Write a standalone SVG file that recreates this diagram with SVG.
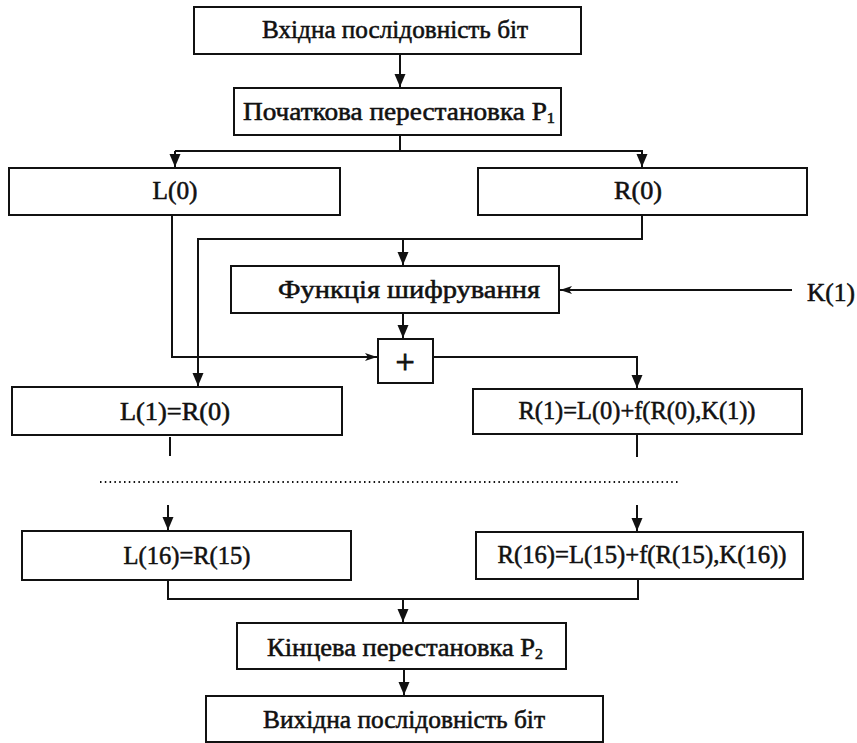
<svg xmlns="http://www.w3.org/2000/svg" width="857" height="743" viewBox="0 0 857 743">
<style>
.box{fill:#fff;stroke:#111;stroke-width:2}
.ln{fill:none;stroke:#111;stroke-width:2}
.t{font-family:"Liberation Serif","Times New Roman",serif;font-size:25px;fill:#111;stroke:#111;stroke-width:0.55;text-anchor:middle}
.sub{font-size:15px}
</style>
<defs>
<marker id="ah" markerUnits="userSpaceOnUse" markerWidth="12" markerHeight="14" refX="13" refY="5.5" orient="auto">
<path d="M0,0 L13,5.5 L0,11 Z" fill="#111"/>
</marker>
<marker id="ahs" markerUnits="userSpaceOnUse" markerWidth="13" markerHeight="10" refX="12" refY="4" orient="auto">
<path d="M0,0 L12,4 L0,8 L3,4 Z" fill="#111"/>
</marker>
</defs>
<rect width="857" height="743" fill="#fff"/>
<g id="connectors">
<line class="ln" x1="400" y1="54" x2="400" y2="87" marker-end="url(#ah)"/>
<line class="ln" x1="400" y1="135" x2="400" y2="151"/>
<polyline class="ln" points="175,151 642,151 642,167" marker-end="url(#ah)"/>
<line class="ln" x1="175" y1="151" x2="175" y2="167" marker-end="url(#ah)"/>
<polyline class="ln" points="642,215 642,239 198,239 198,386" marker-end="url(#ah)"/>
<line class="ln" x1="403" y1="239" x2="403" y2="265" marker-end="url(#ah)"/>
<line class="ln" x1="792" y1="290" x2="560" y2="290" marker-end="url(#ahs)"/>
<line class="ln" x1="403" y1="313" x2="403" y2="338" marker-end="url(#ah)"/>
<polyline class="ln" points="172,215 172,357 377,357" marker-end="url(#ahs)"/>
<polyline class="ln" points="433,357 637,357 637,388" marker-end="url(#ah)"/>
<line class="ln" x1="170" y1="437" x2="170" y2="456"/>
<line class="ln" x1="637" y1="434" x2="637" y2="457"/>
<line x1="100" y1="482" x2="678" y2="482" stroke="#111" stroke-width="2" stroke-dasharray="1.5 3.3"/>
<line class="ln" x1="168" y1="505" x2="168" y2="530" marker-end="url(#ah)"/>
<line class="ln" x1="637" y1="505" x2="637" y2="531" marker-end="url(#ah)"/>
<polyline class="ln" points="168,580 168,599 638,599 638,579"/>
<line class="ln" x1="403" y1="599" x2="403" y2="622" marker-end="url(#ah)"/>
<line class="ln" x1="404" y1="669" x2="404" y2="695" marker-end="url(#ah)"/>
</g>
<g id="n-input">
<rect class="box" x="194" y="7" width="387" height="47"/>
<text class="t" x="395" y="38" textLength="266" lengthAdjust="spacingAndGlyphs">Вхідна послідовність біт</text>
</g>
<g id="n-p1">
<rect class="box" x="234" y="88" width="327" height="47"/>
<text class="t" x="399" y="120" textLength="312" lengthAdjust="spacingAndGlyphs">Початкова перестановка P<tspan class="sub" dy="3">1</tspan></text>
</g>
<g id="n-l0">
<rect class="box" x="9" y="168" width="331" height="47"/>
<text class="t" x="175" y="199" textLength="45" lengthAdjust="spacingAndGlyphs">L(0)</text>
</g>
<g id="n-r0">
<rect class="box" x="478" y="168" width="329" height="47"/>
<text class="t" x="638" y="199" textLength="48" lengthAdjust="spacingAndGlyphs">R(0)</text>
</g>
<g id="n-func">
<rect class="box" x="231" y="266" width="328" height="47"/>
<text class="t" x="409" y="298" textLength="262" lengthAdjust="spacingAndGlyphs">Функція шифрування</text>
</g>
<g id="n-k1">
<text class="t" x="831" y="301" textLength="48" lengthAdjust="spacingAndGlyphs">K(1)</text>
</g>
<g id="n-xor">
<rect class="box" x="378" y="339" width="55" height="44"/>
<text class="t" x="405" y="373" style="font-size:34px;stroke-width:0.9">+</text>
</g>
<g id="n-l1">
<rect class="box" x="12" y="387" width="330" height="48"/>
<text class="t" x="175" y="420" textLength="110" lengthAdjust="spacingAndGlyphs">L(1)=R(0)</text>
</g>
<g id="n-r1">
<rect class="box" x="473" y="389" width="329" height="45"/>
<text class="t" x="637" y="419" textLength="237" lengthAdjust="spacingAndGlyphs">R(1)=L(0)+f(R(0),K(1))</text>
</g>
<g id="n-l16">
<rect class="box" x="22" y="531" width="329" height="49"/>
<text class="t" x="187" y="564" textLength="127" lengthAdjust="spacingAndGlyphs">L(16)=R(15)</text>
</g>
<g id="n-r16">
<rect class="box" x="476" y="532" width="327" height="47"/>
<text class="t" x="642" y="563" textLength="289" lengthAdjust="spacingAndGlyphs">R(16)=L(15)+f(R(15),K(16))</text>
</g>
<g id="n-p2">
<rect class="box" x="237" y="623" width="329" height="46"/>
<text class="t" x="405" y="656" textLength="276" lengthAdjust="spacingAndGlyphs">Кінцева перестановка P<tspan class="sub" dy="3">2</tspan></text>
</g>
<g id="n-output">
<rect class="box" x="206" y="696" width="397" height="46"/>
<text class="t" x="404" y="728" textLength="282" lengthAdjust="spacingAndGlyphs">Вихідна послідовність біт</text>
</g>
</svg>
